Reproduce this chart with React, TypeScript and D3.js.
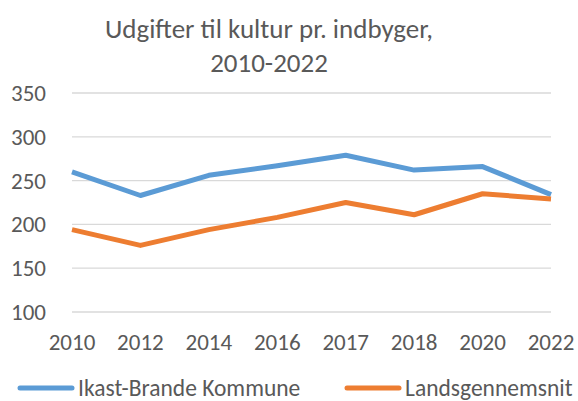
import React, { useEffect, useRef } from 'react'
import * as d3 from 'd3'

const years = ['2010', '2012', '2014', '2016', '2017', '2018', '2020', '2022']
const ikastBrande = [260, 233, 256, 267, 279, 262, 266, 234]
const landsgennemsnit = [194, 176, 194, 208, 225, 211, 235, 229]
const yTicks = [100, 150, 200, 250, 300, 350]
const seriesNames = ['Ikast-Brande Kommune', 'Landsgennemsnit']

const colors = ['#5B9BD5', '#ED7D31']
const font = 'Carlito, Calibri, sans-serif'

const App: React.FC = () => {
  const svgRef = useRef<SVGSVGElement>(null)
  const width = 578
  const height = 401

  useEffect(() => {
    if (!svgRef.current) return
    const svg = d3.select(svgRef.current)
    svg.selectAll('*').remove()

    const margin = { top: 93, left: 72, right: 27, bottom: 89 }

    const x = d3
      .scalePoint()
      .domain(years)
      .range([margin.left, width - margin.right])

    const y = d3
      .scaleLinear()
      .domain([100, 350])
      .range([height - margin.bottom, margin.top])

    svg.append('rect').attr('width', width).attr('height', height).attr('fill', '#fff')

    // title, two lines
    const title = svg
      .append('text')
      .attr('text-anchor', 'middle')
      .attr('fill', '#595959')
      .style('font-family', font)
      .style('font-size', '27px')
    title.append('tspan').attr('x', 269).attr('y', 38).text('Udgifter til kultur pr. indbyger,')
    title.append('tspan').attr('x', 269).attr('y', 72).text('2010-2022')

    // gridlines
    svg
      .selectAll('.grid')
      .data(yTicks)
      .enter()
      .append('line')
      .attr('x1', margin.left)
      .attr('x2', width - margin.right)
      .attr('y1', (d) => y(d))
      .attr('y2', (d) => y(d))
      .attr('stroke', '#D9D9D9')
      .attr('stroke-width', 1.3)

    // y labels
    svg
      .selectAll('.ylab')
      .data(yTicks)
      .enter()
      .append('text')
      .attr('x', 46)
      .attr('y', (d) => y(d))
      .attr('dy', '0.35em')
      .attr('text-anchor', 'end')
      .attr('fill', '#595959')
      .style('font-family', font)
      .style('font-size', '23px')
      .text((d) => d)

    // x labels
    svg
      .selectAll('.xlab')
      .data(years)
      .enter()
      .append('text')
      .attr('x', (d) => x(d) ?? 0)
      .attr('y', 350)
      .attr('text-anchor', 'middle')
      .attr('fill', '#595959')
      .style('font-family', font)
      .style('font-size', '23px')
      .text((d) => d)

    const line = d3
      .line<number>()
      .x((d, i) => x(years[i]) ?? 0)
      .y((d) => y(d))

    ;[ikastBrande, landsgennemsnit].forEach((s, i) => {
      svg
        .append('path')
        .datum(s)
        .attr('d', line)
        .attr('fill', 'none')
        .attr('stroke', colors[i])
        .attr('stroke-width', 5)
        .attr('stroke-linejoin', 'round')
    })

    // legend
    const legendX = [18, 345]
    seriesNames.forEach((name, i) => {
      const g = svg.append('g').attr('transform', `translate(${legendX[i]}, 388)`)
      g.append('line')
        .attr('x1', 2)
        .attr('x2', 54)
        .attr('stroke', colors[i])
        .attr('stroke-width', 5)
        .attr('stroke-linecap', 'round')
      g.append('text')
        .attr('x', 60)
        .attr('dy', '0.35em')
        .attr('fill', '#595959')
        .style('font-family', font)
        .style('font-size', '23.5px')
        .text(name)
    })
  }, [])

  return (
    <svg
      ref={svgRef}
      width={width}
      height={height}
      style={{ position: 'absolute', left: 0, top: 0 }}
    ></svg>
  )
}

export default App
